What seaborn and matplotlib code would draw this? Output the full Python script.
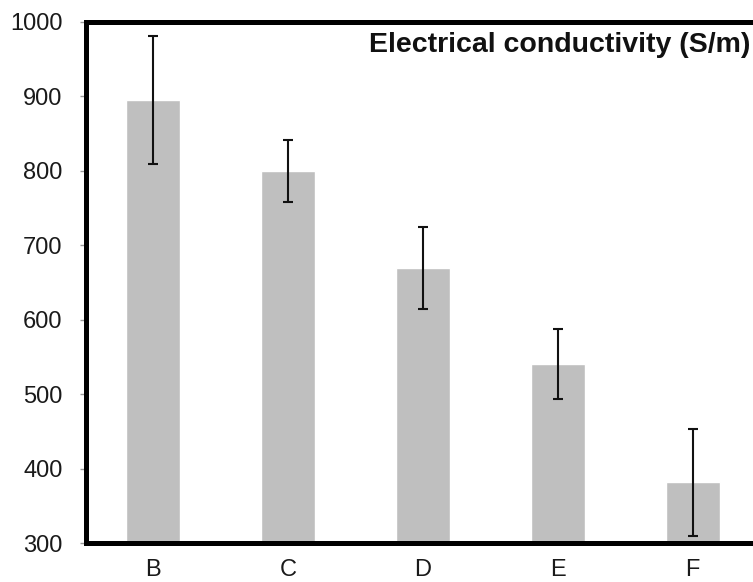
"""Bar chart of electrical conductivity per sample."""
import matplotlib
matplotlib.use("Agg")
import matplotlib.pyplot as plt
import numpy as np
import seaborn as sns

samples = ["B", "C", "D", "E", "F"]
conductivity = [895, 800, 670, 541, 382]
conductivity_err = [86, 42, 55, 47, 72]
y_ticks = [300, 400, 500, 600, 700, 800, 900, 1000]

sns.set_style("ticks")
plt.rcParams["font.family"] = ["Liberation Sans", "DejaVu Sans"]

fig = plt.figure(figsize=(7.53, 5.82), dpi=100)
ax = fig.add_axes([86 / 753, 0.0665, 674 / 753, 0.896])

sns.barplot(x=samples, y=conductivity, color="#bfbfbf", saturation=1,
            width=0.4, errorbar=None, ax=ax)
ax.errorbar(np.arange(len(samples)), conductivity, yerr=conductivity_err,
            fmt="none", ecolor="#111111", elinewidth=1.5, capsize=3.3,
            capthick=1.5)

ax.set_ylim(300, 1000)
ax.set_xlim(-0.5, len(samples) - 0.5)
ax.set_yticks(y_ticks)
ax.tick_params(axis="y", length=4, width=1, color="#999999", labelsize=17,
               labelcolor="#1a1a1a", pad=13)
ax.tick_params(axis="x", length=0, labelsize=17, labelcolor="#1a1a1a", pad=11)
ax.set_xlabel("")
ax.set_ylabel("")
for side in ["left", "bottom", "top"]:
    ax.spines[side].set_linewidth(3.6)
    ax.spines[side].set_color("black")
ax.spines["right"].set_visible(False)

ax.text(0.985, 0.955, "Electrical conductivity (S/m)", transform=ax.transAxes,
        ha="right", va="center", fontsize=20.5, fontweight="bold", color="#111111")

fig.savefig("out.png", dpi=100)
